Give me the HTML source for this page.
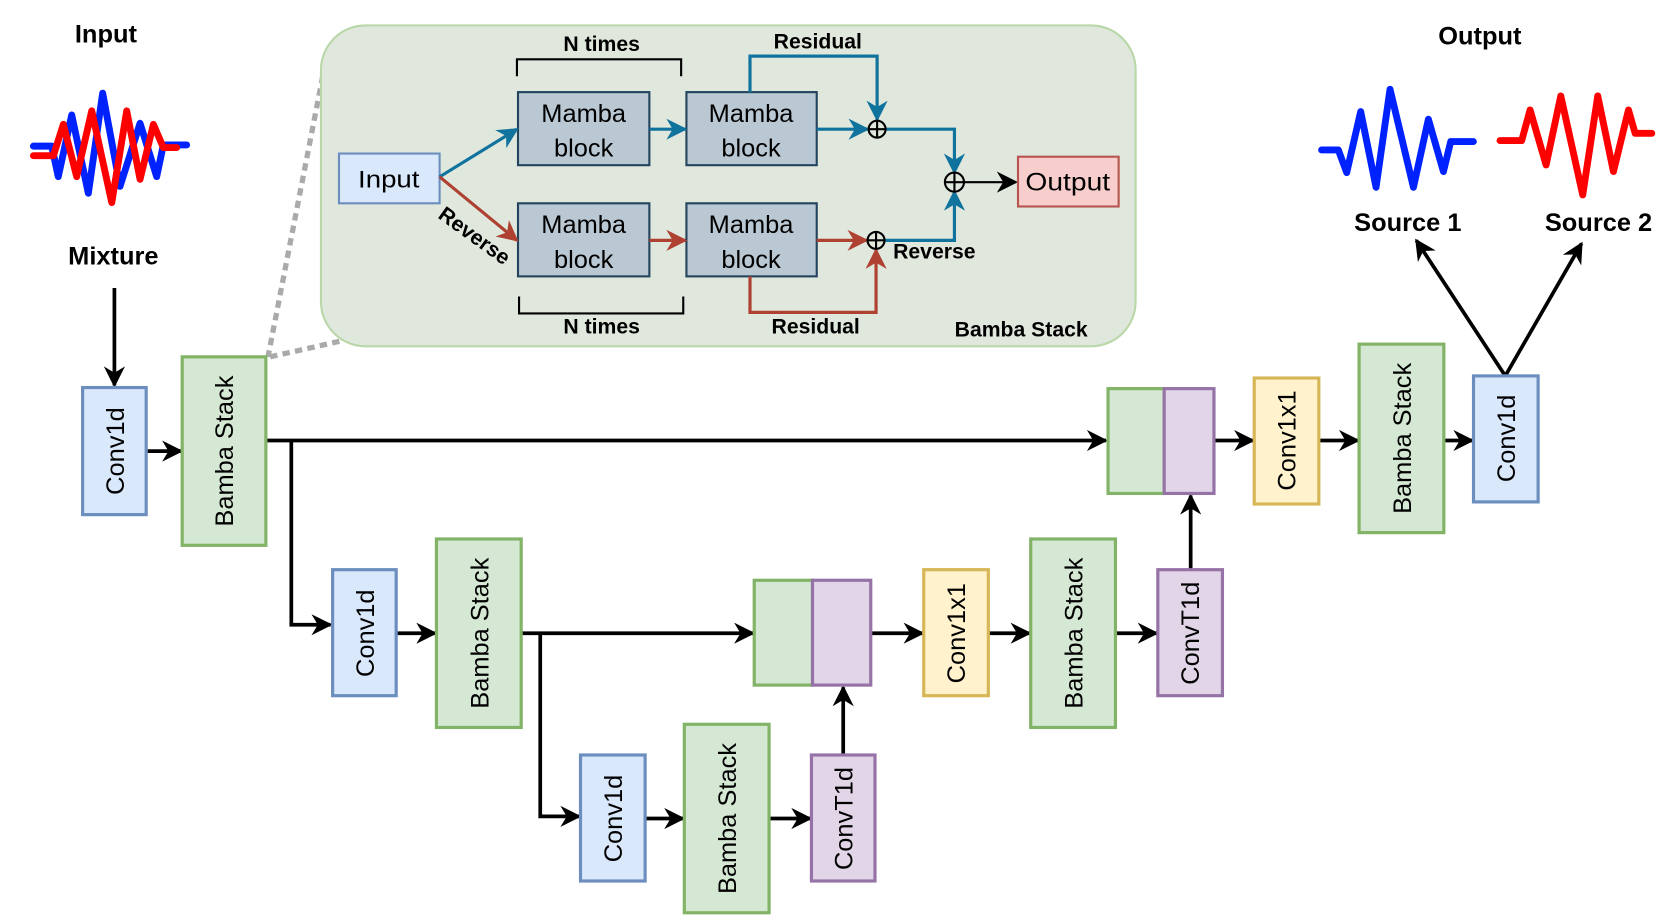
<!DOCTYPE html>
<html><head><meta charset="utf-8"><style>
html,body{margin:0;padding:0;background:#fff;}
svg{display:block;}
text{font-family:"Liberation Sans",sans-serif;}
</style></head><body>
<svg width="1661" height="917" viewBox="0 0 1568 866" preserveAspectRatio="none" xmlns="http://www.w3.org/2000/svg">
<defs>
<marker id="ak2" markerWidth="20" markerHeight="20" refX="18" refY="10" orient="auto" markerUnits="userSpaceOnUse" viewBox="0 0 20 20"><path d="M0,0 L20,10 L0,20 L6,10 z" fill="#000"/></marker>
<marker id="ab" markerWidth="20" markerHeight="20" refX="18" refY="10" orient="auto" markerUnits="userSpaceOnUse" viewBox="0 0 20 20"><path d="M0,0 L20,10 L0,20 L6,10 z" fill="#10739e"/></marker>
<marker id="ar" markerWidth="20" markerHeight="20" refX="18" refY="10" orient="auto" markerUnits="userSpaceOnUse" viewBox="0 0 20 20"><path d="M0,0 L20,10 L0,20 L6,10 z" fill="#ae4132"/></marker>
</defs>

<line x1="307" y1="60" x2="253" y2="337" stroke="#aaa" stroke-width="5" stroke-dasharray="7,5"/>
<line x1="255" y1="337" x2="322" y2="322" stroke="#aaa" stroke-width="5" stroke-dasharray="7,5"/>

<rect x="303" y="24" width="769" height="303" rx="42" fill="#e0e8dd" stroke="#b9d7a8" stroke-width="2"/>
<rect x="320" y="145" width="95" height="47" fill="#dae8fc" stroke="#6c8ebf" stroke-width="2"/>
<text x="367" y="177" font-size="23" text-anchor="middle" textLength="58" lengthAdjust="spacingAndGlyphs">Input</text>
<g fill="#bac8d3" stroke="#23445d" stroke-width="2">
<rect x="489" y="87" width="124" height="69"/><rect x="648" y="87" width="123" height="69"/>
<rect x="489" y="192" width="124" height="69"/><rect x="648" y="192" width="123" height="69"/>
</g>
<g font-size="24" text-anchor="middle">
<text x="551" y="115">Mamba</text><text x="551" y="148">block</text>
<text x="709" y="115">Mamba</text><text x="709" y="148">block</text>
<text x="551" y="220">Mamba</text><text x="551" y="253">block</text>
<text x="709" y="220">Mamba</text><text x="709" y="253">block</text>
</g>
<g stroke="#10739e" stroke-width="3" fill="none">
<line x1="415" y1="167" x2="488" y2="122" marker-end="url(#ab)"/>
<line x1="613" y1="122" x2="647" y2="122" marker-end="url(#ab)"/>
<line x1="771" y1="122" x2="819" y2="122" marker-end="url(#ab)"/>
<polyline points="708,87 708,53 828,53 828,113" marker-end="url(#ab)"/>
<polyline points="836,122 901,122 901,163" marker-end="url(#ab)"/>
<polyline points="835,227 901,227 901,181" marker-end="url(#ab)"/>
</g>
<g stroke="#ae4132" stroke-width="3" fill="none">
<line x1="415" y1="167" x2="488" y2="227" marker-end="url(#ar)"/>
<line x1="613" y1="227" x2="647" y2="227" marker-end="url(#ar)"/>
<line x1="771" y1="227" x2="818" y2="227" marker-end="url(#ar)"/>
<polyline points="708,261 708,295 827,295 827,236" marker-end="url(#ar)"/>
</g>
<g stroke="#000" stroke-width="2" fill="none">
<circle cx="828" cy="122" r="8"/><line x1="820" y1="122" x2="836" y2="122"/><line x1="828" y1="114" x2="828" y2="130"/>
<circle cx="827" cy="227" r="8"/><line x1="819" y1="227" x2="835" y2="227"/><line x1="827" y1="219" x2="827" y2="235"/>
<circle cx="901" cy="172" r="9"/><line x1="892" y1="172" x2="910" y2="172"/><line x1="901" y1="163" x2="901" y2="181"/>
<line x1="910" y1="172" x2="959" y2="172" marker-end="url(#ak2)"/>
<polyline points="488,72 488,56 643,56 643,72"/>
<polyline points="490,280 490,296 645,296 645,280"/>
</g>
<rect x="961" y="148" width="95" height="47" fill="#f8cecc" stroke="#b85450" stroke-width="2"/>
<text x="1008" y="180" font-size="24" text-anchor="middle" textLength="80" lengthAdjust="spacingAndGlyphs">Output</text>
<g font-size="20" font-weight="bold" text-anchor="middle">
<text x="568" y="48">N times</text>
<text x="568" y="315">N times</text>
<text x="772" y="46">Residual</text>
<text x="770" y="315">Residual</text>
<text x="882" y="244">Reverse</text>
<text x="964" y="318">Bamba Stack</text>
<text transform="translate(444,228) rotate(36)">Reverse</text>
</g>

<polyline points="31.5,138 48.8,138 55,166.8 67.7,108.6 83.4,182.5 96.9,88 113.3,176 132.2,116.4 147.9,166.8 154.2,136.9 176.2,136.9" fill="none" stroke="#0022ff" stroke-width="6.5" stroke-linejoin="round" stroke-linecap="round"/>
<polyline points="31.5,147 50.4,147 59.8,117.4 72.4,166.8 86.6,104.7 105.5,191.3 119.6,104.7 132.2,169.3 144.8,117.4 154.2,139.4 166.8,139.4" fill="none" stroke="#ff0000" stroke-width="6.5" stroke-linejoin="round" stroke-linecap="round"/>
<text x="100" y="40" font-size="24" font-weight="bold" text-anchor="middle">Input</text>
<text x="107" y="250" font-size="24" font-weight="bold" text-anchor="middle">Mixture</text>

<polyline points="1247.6,141.6 1263.4,141.6 1271.3,163 1284.5,105.4 1299,176.9 1312.2,84.3 1334.3,176.9 1348.4,112.6 1362.6,162 1369.5,133.7 1390.9,133.7" fill="none" stroke="#0022ff" stroke-width="6.5" stroke-linejoin="round" stroke-linecap="round"/>
<polyline points="1416,132.8 1436.5,132.8 1444.4,103.8 1459.5,155.8 1473.4,90.6 1494.1,184.1 1508.3,90.6 1523.1,162 1537.3,103.8 1543.6,125.9 1559.3,125.9" fill="none" stroke="#ff0000" stroke-width="6.5" stroke-linejoin="round" stroke-linecap="round"/>
<text x="1397" y="42" font-size="24" font-weight="bold" text-anchor="middle">Output</text>
<text x="1329" y="218" font-size="24" font-weight="bold" text-anchor="middle">Source 1</text>
<text x="1509" y="218" font-size="24" font-weight="bold" text-anchor="middle">Source 2</text>

<g stroke="#000" stroke-width="3.5" fill="none">
<line x1="108" y1="272" x2="108" y2="364" marker-end="url(#ak2)"/>
<line x1="138" y1="426" x2="171" y2="426" marker-end="url(#ak2)"/>
<line x1="251" y1="416" x2="1044" y2="416" marker-end="url(#ak2)"/>
<polyline points="275,416 275,590 312,590" marker-end="url(#ak2)"/>
<line x1="374" y1="598" x2="411" y2="598" marker-end="url(#ak2)"/>
<line x1="492" y1="598" x2="711" y2="598" marker-end="url(#ak2)"/>
<polyline points="510,598 510,771 547,771" marker-end="url(#ak2)"/>
<line x1="609" y1="773" x2="645" y2="773" marker-end="url(#ak2)"/>
<line x1="726" y1="773" x2="765" y2="773" marker-end="url(#ak2)"/>
<line x1="796" y1="713" x2="796" y2="649" marker-end="url(#ak2)"/>
<line x1="822" y1="598" x2="871" y2="598" marker-end="url(#ak2)"/>
<line x1="933" y1="598" x2="972" y2="598" marker-end="url(#ak2)"/>
<line x1="1053" y1="598" x2="1092" y2="598" marker-end="url(#ak2)"/>
<line x1="1124" y1="538" x2="1124" y2="468" marker-end="url(#ak2)"/>
<line x1="1146" y1="416" x2="1183" y2="416" marker-end="url(#ak2)"/>
<line x1="1245" y1="416" x2="1282" y2="416" marker-end="url(#ak2)"/>
<line x1="1363" y1="416" x2="1390" y2="416" marker-end="url(#ak2)"/>
<line x1="1421" y1="355" x2="1337" y2="227" marker-end="url(#ak2)"/>
<line x1="1421" y1="355" x2="1493" y2="230" marker-end="url(#ak2)"/>
</g>

<g stroke-width="3">
<rect x="78" y="366" width="60" height="120" fill="#dae8fc" stroke="#6c8ebf"/>
<rect x="172" y="337" width="79" height="178" fill="#d5e8d4" stroke="#82b366"/>
<rect x="314" y="538" width="60" height="119" fill="#dae8fc" stroke="#6c8ebf"/>
<rect x="412" y="509" width="80" height="178" fill="#d5e8d4" stroke="#82b366"/>
<rect x="548" y="713" width="61" height="119" fill="#dae8fc" stroke="#6c8ebf"/>
<rect x="646" y="684" width="80" height="178" fill="#d5e8d4" stroke="#82b366"/>
<rect x="766" y="713" width="60" height="119" fill="#e1d5e7" stroke="#9673a6"/>
<rect x="712" y="548" width="55" height="99" fill="#d5e8d4" stroke="#82b366"/>
<rect x="767" y="548" width="55" height="99" fill="#e1d5e7" stroke="#9673a6"/>
<rect x="872" y="538" width="61" height="119" fill="#fff2cc" stroke="#d6b656"/>
<rect x="973" y="509" width="80" height="178" fill="#d5e8d4" stroke="#82b366"/>
<rect x="1093" y="538" width="61" height="119" fill="#e1d5e7" stroke="#9673a6"/>
<rect x="1046" y="367" width="53" height="99" fill="#d5e8d4" stroke="#82b366"/>
<rect x="1099" y="367" width="47" height="99" fill="#e1d5e7" stroke="#9673a6"/>
<rect x="1184" y="357" width="61" height="119" fill="#fff2cc" stroke="#d6b656"/>
<rect x="1283" y="325" width="80" height="178" fill="#d5e8d4" stroke="#82b366"/>
<rect x="1391" y="355" width="61" height="119" fill="#dae8fc" stroke="#6c8ebf"/>
</g>
<g font-size="24" text-anchor="middle">
<text transform="translate(117,426) rotate(-90)">Conv1d</text>
<text transform="translate(220,426) rotate(-90)">Bamba Stack</text>
<text transform="translate(353,598) rotate(-90)">Conv1d</text>
<text transform="translate(461,598) rotate(-90)">Bamba Stack</text>
<text transform="translate(587,773) rotate(-90)">Conv1d</text>
<text transform="translate(695,773) rotate(-90)">Bamba Stack</text>
<text transform="translate(805,773) rotate(-90)">ConvT1d</text>
<text transform="translate(911,598) rotate(-90)">Conv1x1</text>
<text transform="translate(1022,598) rotate(-90)">Bamba Stack</text>
<text transform="translate(1132,598) rotate(-90)">ConvT1d</text>
<text transform="translate(1223,416) rotate(-90)">Conv1x1</text>
<text transform="translate(1332,414) rotate(-90)">Bamba Stack</text>
<text transform="translate(1430,414) rotate(-90)">Conv1d</text>
</g>
</svg>
</body></html>
